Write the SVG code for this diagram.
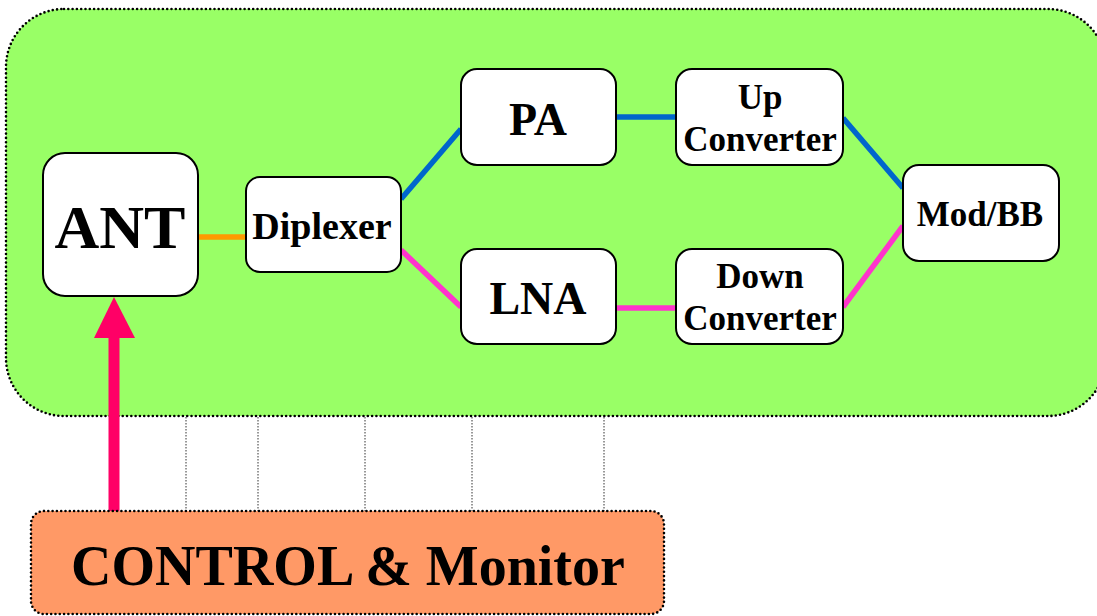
<svg xmlns="http://www.w3.org/2000/svg" width="1097" height="616" viewBox="0 0 1097 616">
<style>
.box{fill:#ffffff;stroke:#000;stroke-width:2}
.t{font-family:"Liberation Serif","Times New Roman",serif;font-weight:bold;fill:#000;text-anchor:middle}
.dot{stroke:#000;stroke-width:2.6;stroke-dasharray:0 4.3;stroke-linecap:round}
.thin{stroke:#333;stroke-width:1;stroke-dasharray:1.5 1.5;fill:none}
.c{fill:none;stroke-width:5.5}
</style>
<g id="rf-module">
<rect x="6" y="9" width="1100" height="407" rx="58" fill="#99FF66" class="dot"/>
</g>
<g id="control-links">
<line x1="186" y1="417" x2="186" y2="511" class="thin"/>
<line x1="258" y1="417" x2="258" y2="511" class="thin"/>
<line x1="365" y1="417" x2="365" y2="511" class="thin"/>
<line x1="472" y1="417" x2="472" y2="511" class="thin"/>
<line x1="604" y1="417" x2="604" y2="511" class="thin"/>
</g>
<g id="connectors">
<line x1="198" y1="237" x2="246" y2="237" class="c" stroke="#FF9900" stroke-width="6"/>
<line x1="401" y1="199" x2="461" y2="129" class="c" stroke="#0066CC"/>
<line x1="616" y1="117" x2="676" y2="117" class="c" stroke="#0066CC"/>
<line x1="843" y1="118" x2="903" y2="188" class="c" stroke="#0066CC"/>
<line x1="401" y1="250" x2="461" y2="307" class="c" stroke="#FF33CC"/>
<line x1="616" y1="308" x2="676" y2="308" class="c" stroke="#FF33CC"/>
<line x1="843" y1="307" x2="903" y2="226" class="c" stroke="#FF33CC"/>
<line x1="114" y1="512" x2="114" y2="338" stroke="#FF0066" stroke-width="11"/>
<polygon points="114,297 135,338 94,338" fill="#FF0066"/>
</g>
<g id="ant">
<rect x="43" y="153" width="155" height="143" rx="22" class="box"/>
<text x="120" y="248" class="t" font-size="62">ANT</text>
</g>
<g id="diplexer">
<rect x="246" y="177" width="155" height="95" rx="14" class="box"/>
<text x="322" y="239" class="t" font-size="38">Diplexer</text>
</g>
<g id="pa">
<rect x="461" y="69" width="155" height="96" rx="16" class="box"/>
<text x="538" y="135" class="t" font-size="46">PA</text>
</g>
<g id="lna">
<rect x="461" y="249" width="155" height="95" rx="16" class="box"/>
<text x="538" y="314" class="t" font-size="46">LNA</text>
</g>
<g id="up-converter">
<rect x="676" y="69" width="167" height="96" rx="16" class="box"/>
<text x="760" y="109" class="t" font-size="35">Up</text>
<text x="760" y="151" class="t" font-size="35">Converter</text>
</g>
<g id="down-converter">
<rect x="676" y="249" width="167" height="95" rx="16" class="box"/>
<text x="760" y="288" class="t" font-size="35">Down</text>
<text x="760" y="330" class="t" font-size="35">Converter</text>
</g>
<g id="mod-bb">
<rect x="903" y="165" width="156" height="96" rx="16" class="box"/>
<text x="980" y="226" class="t" font-size="35">Mod/BB</text>
</g>
<g id="control">
<rect x="31" y="511" width="633" height="103" rx="13" fill="#FF9966" class="dot"/>
<text x="348" y="585" class="t" font-size="56">CONTROL &amp; Monitor</text>
</g>
</svg>
